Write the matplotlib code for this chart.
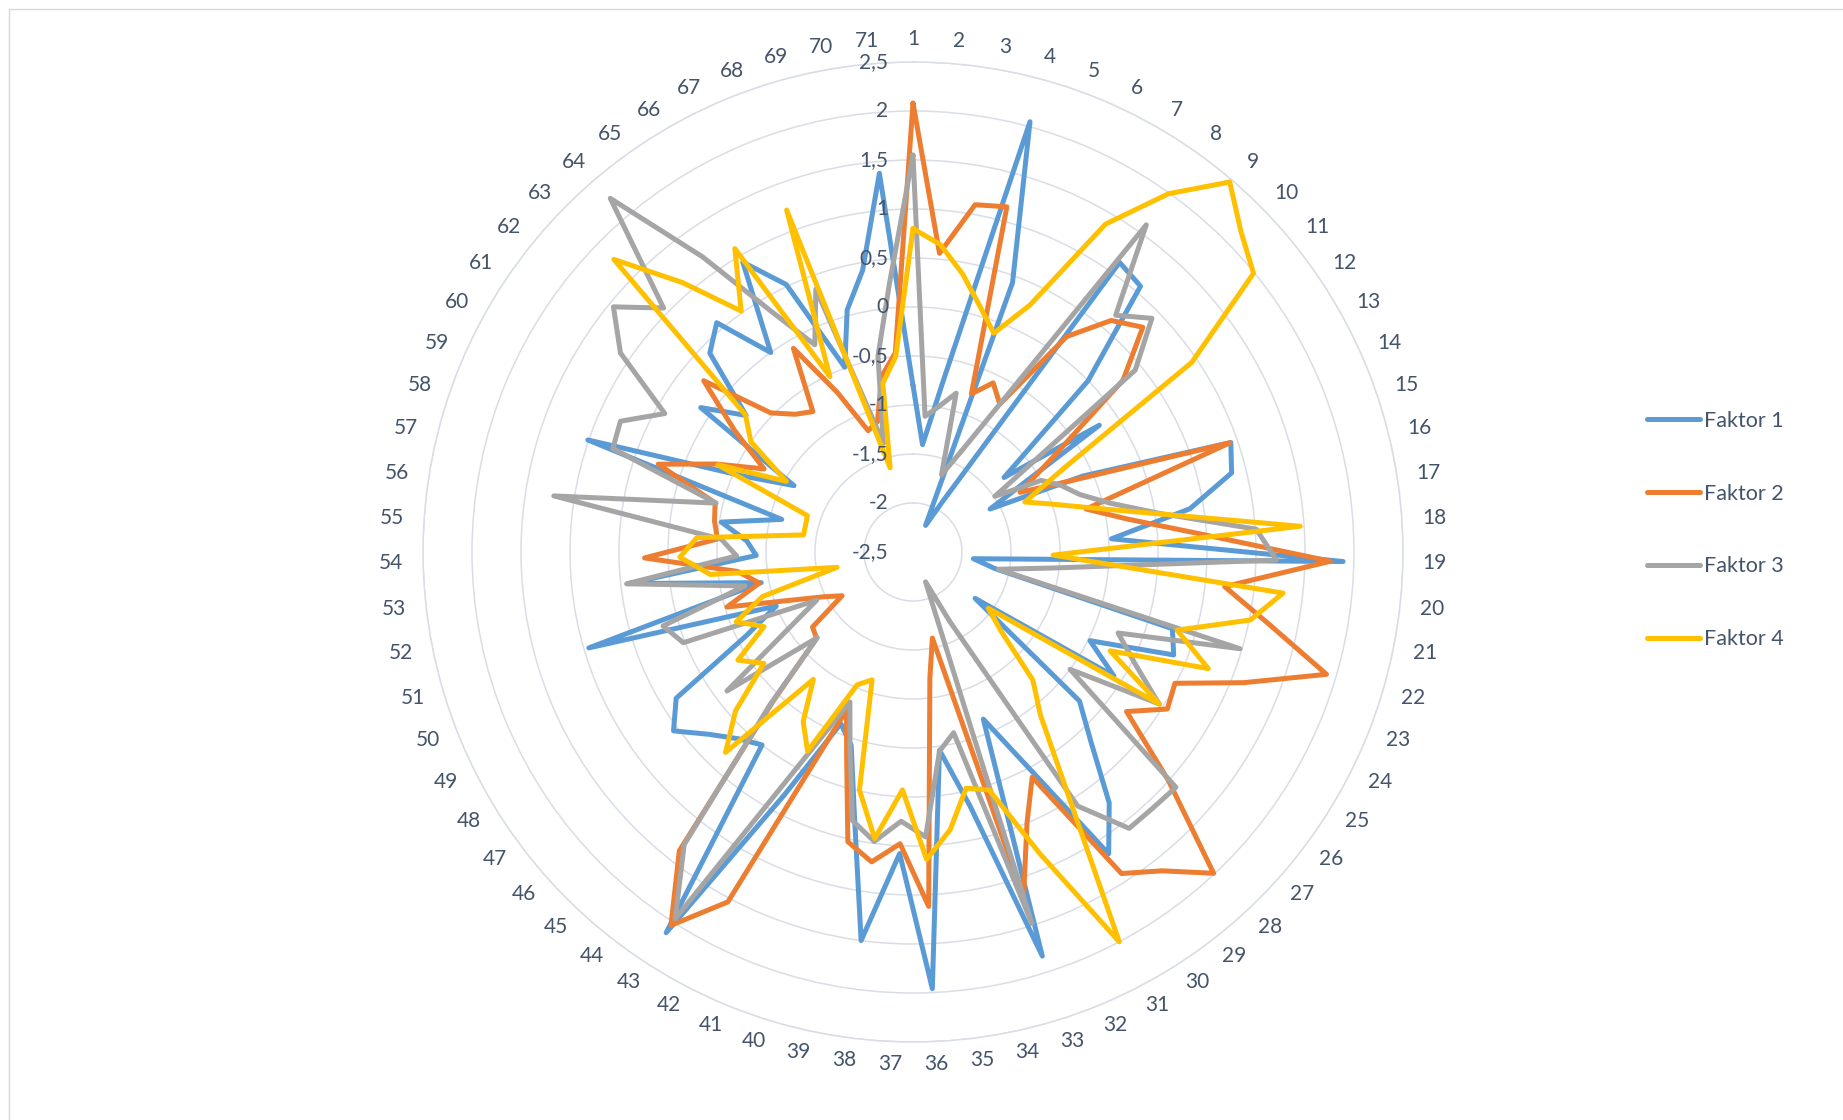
import numpy as np
import matplotlib
matplotlib.use("Agg")
import matplotlib.pyplot as plt
from matplotlib.lines import Line2D
from matplotlib.transforms import offset_copy

# ── data ─────────────────────────────────────────────────────────────────────
categories = [str(i) for i in range(1, 72)]

faktor1 = [-0.80, -1.40, -0.70, 2.05, 0.43, -2.20, -1.90, 1.13, 1.07, 0.00,
           -1.30, -0.20, -1.60, -0.60, 0.93, 0.85, 0.36, -0.47, 1.89, -1.88,
           -1.65, 0.26, 0.36, -0.48, -0.09, -1.71, -0.22, 0.16, 0.75, 1.17,
           -0.05, -0.65, 1.83, 0.16, -0.46, 1.96, 0.58, 1.50, 0.23, -0.43,
           -0.60, 0.30, 2.13, 0.00, 0.11, 0.29, 0.55, 0.34, -0.60, -1.00,
           0.95, -0.92, 0.42, -0.90, -0.80, -0.52, -1.12, 1.01, -0.60, -1.11,
           0.12, -0.30, 0.40, 0.58, 0.00, 0.93, 0.52, -0.49, 0.06, 0.42,
           1.38]

faktor2 = [2.08, 0.56, 1.10, 1.15, -0.78, -0.59, -0.75, 0.20, 0.61, 0.78,
           0.27, -0.76, -1.25, -0.70, 0.92, -0.68, -0.30, 0.40, 1.76, 0.70,
           1.20, 1.90, 1.13, 0.49, 0.55, 0.22, 1.00, 1.99, 1.63, 1.41,
           0.10, 0.50, 1.20, -1.60, -1.20, 1.12, 0.48, 0.69, 0.53, -0.28,
           -0.75, 1.54, 2.04, 1.37, -0.40, -1.18, -1.22, -1.65, -1.48, -1.16,
           -0.52, -0.90, -0.70, 0.24, -0.50, -0.45, -0.42, 0.25, -0.30, -0.76,
           -0.30, 0.26, -0.47, -0.65, -0.74, -0.09, -0.70, -1.18, -1.12, -0.68,
           -0.46]

faktor3 = [1.55, -1.11, -0.99, -0.82, -1.66, -1.38, -0.75, 1.60, 0.68, 0.91,
           0.43, -1.49, -1.00, -0.84, -0.70, -0.43, 0.05, 1.01, 1.21, -1.03,
           -1.61, 0.98, -0.25, 0.03, 0.45, -0.50, 1.10, 1.08, 1.08, 0.59,
           -1.70, -2.17, 1.48, -0.61, -0.45, 0.41, 0.25, 0.48, 0.31, -0.39,
           -0.84, -0.09, 1.96, 1.29, -0.36, -1.19, -0.13, -1.00, -1.40, 0.02,
           0.16, -0.75, 0.44, -0.70, -0.54, 1.21, -0.43, 0.74, 0.77, 0.40,
           1.11, 1.45, 1.06, 2.25, 1.20, 0.34, -0.16, 0.36, -1.35, -0.47,
           0.24]

faktor4 = [0.80, 0.65, 0.38, 0.10, -0.12, 0.29, 1.38, 1.99, 2.47, 2.18,
           1.99, 0.94, -0.72, -1.25, -1.00, -0.63, 0.03, 1.46, -1.07, 1.30,
           1.01, 0.31, 0.74, -0.25, 0.46, -1.54, -1.30, -0.71, -0.39, 0.36,
           2.00, 0.84, 0.05, -0.03, 0.36, 0.64, -0.07, 0.45, -0.01, -1.13,
           -1.03, -0.20, -0.44, -0.85, 0.30, -0.07, -0.60, -0.40, -0.80, -0.56,
           -0.90, -1.71, -0.42, -0.12, -0.29, -1.37, -1.37, -1.36, -0.32, -1.02,
           -0.50, -0.29, 1.77, 1.12, 0.52, 1.09, -0.52, 1.22, -1.61, -0.75,
           -0.50]

series_names = ["Faktor 1", "Faktor 2", "Faktor 3", "Faktor 4"]
r_ticks = [-2.5, -2, -1.5, -1, -0.5, 0, 0.5, 1, 1.5, 2, 2.5]

colors = ["#5B9BD5", "#ED7D31", "#A5A5A5", "#FFC000"]
text_color = "#44546A"
grid_color = "#D9DDE5"

plt.rcParams["font.family"] = ["Lato", "DejaVu Sans"]

W, H = 1843, 1120
fig = plt.figure(figsize=(W / 100, H / 100), dpi=100)

# polar area: centre (913, 552) px, outer radius 490 px
cx, cy, rad = 913, 552, 490
ax = fig.add_axes([(cx - rad) / W, 1 - (cy + rad) / H, 2 * rad / W, 2 * rad / H],
                  projection="polar")
ax.set_theta_zero_location("N")
ax.set_theta_direction(-1)
ax.set_ylim(-2.5, 2.5)

n = len(categories)
theta = np.arange(n) * 2 * np.pi / n
theta_c = np.append(theta, theta[0])

for vals, col, name in zip([faktor1, faktor2, faktor3, faktor4], colors, series_names):
    v = np.append(vals, vals[0])
    ax.plot(theta_c, v, color=col, lw=3.6, label=name,
            solid_joinstyle="round", solid_capstyle="round", zorder=3)

# grid: circles only, no spokes
ax.set_yticks(r_ticks[1:])
ax.set_yticklabels([])
ax.set_xticks(theta)
ax.set_xticklabels([])
ax.tick_params(length=0)
ax.yaxis.grid(True, color=grid_color, lw=1.1)
ax.xaxis.grid(False)
ax.spines["polar"].set_color(grid_color)
ax.spines["polar"].set_linewidth(1.1)

# radial value labels, left of the vertical axis
lab_tr = offset_copy(ax.transData, fig=fig, x=-25, y=0, units="dots")
for rv in r_ticks:
    s = f"{rv:g}".replace(".", ",")
    ax.text(0, rv, s, transform=lab_tr, ha="right", va="center",
            fontsize=15, color=text_color, zorder=5)

# category labels on a slightly flattened ring outside the plot
rx, ry = 522 / (2 * rad), 513 / (2 * rad)   # in axes fraction
for t, c in zip(theta, categories):
    ax.text(0.5 + rx * np.sin(t), 0.5 + ry * np.cos(t), c,
            transform=ax.transAxes, ha="center", va="center",
            fontsize=15, color=text_color, clip_on=False)

# legend
handles = [Line2D([0], [0], color=c, lw=3.6, solid_capstyle="round") for c in colors]
fig.legend(handles, series_names, loc="center left",
           bbox_to_anchor=(1647 / W, 1 - 530 / H), frameon=False,
           fontsize=15.5, labelcolor=text_color, handlelength=2.45,
           handletextpad=0.2, labelspacing=2.46, borderpad=0, borderaxespad=0)

# chart-area border (left and top edges visible)
fig.add_artist(Line2D([9 / W, 9 / W, 1], [0, 1 - 9 / H, 1 - 9 / H],
                      transform=fig.transFigure, color="#D9D9D9", lw=1))

fig.savefig("out.png", dpi=100)
